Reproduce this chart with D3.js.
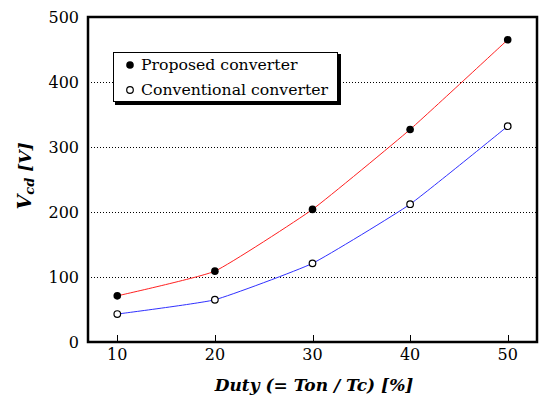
<!DOCTYPE html>
<head>
<meta charset="utf-8">
<script src="https://d3js.org/d3.v7.min.js"></script>
<style>
    body { margin: 0; background: #fff; }
    text { font-family: "DejaVu Serif", "Liberation Serif", serif; fill: #000; }
    .tick-label { font-size: 16px; }
    .title { font-size: 17px; font-weight: bold; font-style: italic; }
    .legend text { font-size: 15.7px; }
    .grid line { stroke: #000; stroke-width: 1px; stroke-dasharray: 1, 2; }
</style>
</head>
<body>
<svg width="541" height="397"></svg>
<script>
    // chart data
    var duty = [10, 20, 30, 40, 50];
    var proposed = [71, 109, 204, 327, 465];
    var conventional = [43, 65, 121, 212, 332];
    var yTicks = [0, 100, 200, 300, 400, 500];
    var seriesNames = ["Proposed converter", "Conventional converter"];

    var svg = d3.select("svg");
    var plotL = 88, plotR = 537, plotT = 17, plotB = 342;

    var x = d3.scaleLinear().domain([7, 53]).range([plotL, plotR]);
    var y = d3.scaleLinear().domain([0, 500]).range([plotB, plotT]);

    // dotted grid lines
    svg.append("g").attr("class", "grid")
        .selectAll("line")
        .data(yTicks.filter(function(d) { return d > 0 && d < 500; }))
        .enter().append("line")
        .attr("x1", plotL).attr("x2", plotR)
        .attr("y1", function(d) { return Math.round(y(d)) + 0.5; })
        .attr("y2", function(d) { return Math.round(y(d)) + 0.5; });

    // y tick labels
    svg.append("g").selectAll("text")
        .data(yTicks)
        .enter().append("text")
        .attr("class", "tick-label")
        .attr("x", 79)
        .attr("y", function(d) { return y(d) + 6; })
        .style("text-anchor", "end")
        .text(function(d) { return d; });

    // x ticks (inward) and labels
    svg.append("g").selectAll("line")
        .data(duty)
        .enter().append("line")
        .attr("x1", function(d) { return Math.round(x(d)) + 0.5; })
        .attr("x2", function(d) { return Math.round(x(d)) + 0.5; })
        .attr("y1", plotB).attr("y2", plotB - 7)
        .attr("stroke", "#000");

    svg.append("g").selectAll("text")
        .data(duty)
        .enter().append("text")
        .attr("class", "tick-label")
        .attr("x", function(d) { return x(d); })
        .attr("y", 360)
        .style("text-anchor", "middle")
        .text(function(d) { return d; });

    // lines and markers (lightly smoothed, like the original)
    var line = d3.line()
        .x(function(d, i) { return x(duty[i]); })
        .y(function(d) { return y(d); })
        .curve(d3.curveCardinal.tension(0.6));

    svg.append("path").datum(proposed)
        .attr("d", line).attr("fill", "none")
        .attr("stroke", "#ff2020").attr("stroke-width", 1);
    svg.append("path").datum(conventional)
        .attr("d", line).attr("fill", "none")
        .attr("stroke", "#3030ff").attr("stroke-width", 1);

    svg.append("g").selectAll("circle")
        .data(proposed)
        .enter().append("circle")
        .attr("cx", function(d, i) { return x(duty[i]); })
        .attr("cy", function(d) { return y(d); })
        .attr("r", 3.8).attr("fill", "#000");
    svg.append("g").selectAll("circle")
        .data(conventional)
        .enter().append("circle")
        .attr("cx", function(d, i) { return x(duty[i]); })
        .attr("cy", function(d) { return y(d); })
        .attr("r", 3.3).attr("fill", "#fff")
        .attr("stroke", "#000").attr("stroke-width", 1.2);

    // plot frame
    svg.append("rect")
        .attr("x", plotL).attr("y", plotT)
        .attr("width", plotR - plotL).attr("height", plotB - plotT)
        .attr("fill", "none").attr("stroke", "#000").attr("stroke-width", 2.5);

    // legend
    var legend = svg.append("g").attr("class", "legend");
    legend.append("rect")
        .attr("x", 115).attr("y", 54).attr("width", 226).attr("height", 51)
        .attr("fill", "#000");
    legend.append("rect")
        .attr("x", 113.5).attr("y", 52.5).attr("width", 224).attr("height", 49)
        .attr("fill", "#fff").attr("stroke", "#000").attr("stroke-width", 1);
    legend.append("circle").attr("cx", 130).attr("cy", 65).attr("r", 3.8).attr("fill", "#000");
    legend.append("circle").attr("cx", 130).attr("cy", 90).attr("r", 3.3)
        .attr("fill", "#fff").attr("stroke", "#000").attr("stroke-width", 1.2);
    legend.selectAll("text.item")
        .data(seriesNames)
        .enter().append("text")
        .attr("class", "item")
        .attr("x", 141)
        .attr("y", function(d, i) { return 70 + i * 25; })
        .text(function(d) { return d; });

    // axis titles
    svg.append("text").attr("class", "title")
        .attr("x", 314).attr("y", 391)
        .style("text-anchor", "middle")
        .text("Duty (= Ton / Tc) [%]");

    var yt = svg.append("text").attr("class", "title")
        .attr("transform", "translate(31,176) rotate(-90)")
        .style("text-anchor", "middle");
    yt.append("tspan").style("font-size", "19px").text("V");
    yt.append("tspan").attr("dy", 3).style("font-size", "13px").text("cd");
    yt.append("tspan").attr("dy", -3).text(" [V]");
</script>
</body>
